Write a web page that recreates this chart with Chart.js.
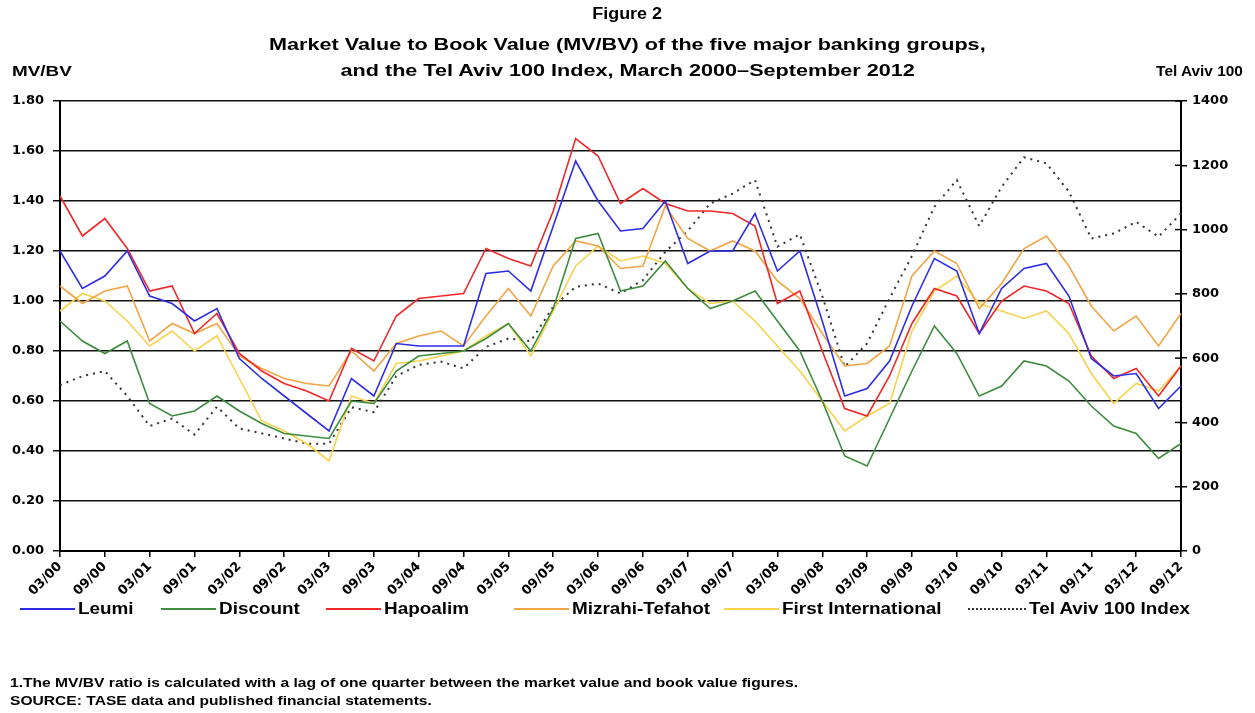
<!DOCTYPE html>
<html>
<head>
<meta charset="utf-8">
<script src="https://cdn.jsdelivr.net/npm/chart.js@4.4.0/dist/chart.umd.min.js"></script>
<style>
  body { margin: 0; background: #fff; }
  #wrap { position: relative; width: 1255px; height: 713px; overflow: hidden;
          font-family: "Liberation Sans", Arial, sans-serif; font-weight: bold; color: #000; }
  #chart { position: absolute; left: 0; top: 0; }
  .txt { position: absolute; white-space: nowrap; }
  .txt span, .leg span.lbl { display: inline-block; }
  .title { left: 0; width: 1255px; text-align: center; font-size: 16px; }
  .title span { transform: scaleX(1.35); }
  .leg { position: absolute; top: 600px; height: 18px; display: flex; align-items: center; font-size: 16px; white-space: nowrap; }
  .leg span.smp { display: inline-block; height: 0; margin-right: 3px; }
  .leg span.lbl { transform: scaleX(1.18); transform-origin: left center; }
  .note { left: 10px; font-size: 13px; }
  .note span { transform: scaleX(1.2); transform-origin: left center; }
</style>
</head>
<body>
<div id="wrap">
  <canvas id="chart" width="1255" height="713"></canvas>
  <div class="txt title" style="top:5px"><span style="transform:scaleX(1.12)">Figure 2</span></div>
  <div class="txt title" style="top:36px"><span>Market Value to Book Value (MV/BV) of the five major banking groups,</span></div>
  <div class="txt title" style="top:62px"><span>and the Tel Aviv 100 Index, March 2000–September 2012</span></div>
  <div class="txt" style="left:12px;top:63px;font-size:14px"><span style="transform:scaleX(1.35);transform-origin:left center">MV/BV</span></div>
  <div class="txt" style="right:12px;top:63px;font-size:14px"><span style="transform:scaleX(1.1);transform-origin:right center">Tel Aviv 100</span></div>
  <div id="legend"></div>
  <div class="txt note" style="top:675px"><span>1.The MV/BV ratio is calculated with a lag of one quarter between the market value and book value figures.</span></div>
  <div class="txt note" style="top:693px"><span>SOURCE: TASE data and published financial statements.</span></div>
</div>
<script>
'use strict';

let quarters = ['03/00', '06/00', '09/00', '12/00', '03/01', '06/01', '09/01', '12/01',
    '03/02', '06/02', '09/02', '12/02', '03/03', '06/03', '09/03', '12/03',
    '03/04', '06/04', '09/04', '12/04', '03/05', '06/05', '09/05', '12/05',
    '03/06', '06/06', '09/06', '12/06', '03/07', '06/07', '09/07', '12/07',
    '03/08', '06/08', '09/08', '12/08', '03/09', '06/09', '09/09', '12/09',
    '03/10', '06/10', '09/10', '12/10', '03/11', '06/11', '09/11', '12/11',
    '03/12', '06/12', '09/12'];

let leumi = [1.20, 1.05, 1.10, 1.20, 1.02, 0.99, 0.92, 0.97, 0.77, 0.69, 0.62, 0.55, 0.48,
    0.69, 0.62, 0.83, 0.82, 0.82, 0.82, 1.11, 1.12, 1.04, 1.30, 1.56, 1.40, 1.28, 1.29,
    1.40, 1.15, 1.20, 1.20, 1.35, 1.12, 1.20, 0.92, 0.62, 0.65, 0.76, 0.98, 1.17, 1.12,
    0.87, 1.05, 1.13, 1.15, 1.02, 0.77, 0.70, 0.71, 0.57, 0.66];

let discount = [0.92, 0.84, 0.79, 0.84, 0.59, 0.54, 0.56, 0.62, 0.56, 0.51, 0.47, 0.46, 0.45,
    0.60, 0.59, 0.72, 0.78, 0.79, 0.80, 0.85, 0.91, 0.80, 0.97, 1.25, 1.27, 1.04, 1.06,
    1.16, 1.05, 0.97, 1.00, 1.04, 0.92, 0.80, 0.60, 0.38, 0.34, 0.53, 0.72, 0.90, 0.79,
    0.62, 0.66, 0.76, 0.74, 0.68, 0.58, 0.50, 0.47, 0.37, 0.43];

let hapoalim = [1.42, 1.26, 1.33, 1.21, 1.04, 1.06, 0.87, 0.95, 0.79, 0.72, 0.67, 0.64, 0.60,
    0.81, 0.76, 0.94, 1.01, 1.02, 1.03, 1.21, 1.17, 1.14, 1.36, 1.65, 1.58, 1.39, 1.45,
    1.39, 1.36, 1.36, 1.35, 1.30, 0.99, 1.04, 0.80, 0.57, 0.54, 0.70, 0.91, 1.05, 1.02,
    0.87, 1.00, 1.06, 1.04, 0.99, 0.78, 0.69, 0.73, 0.62, 0.74];

let mizrahi = [1.06, 0.99, 1.04, 1.06, 0.84, 0.91, 0.87, 0.91, 0.78, 0.73, 0.69, 0.67, 0.66,
    0.80, 0.72, 0.83, 0.86, 0.88, 0.82, 0.94, 1.05, 0.94, 1.14, 1.24, 1.22, 1.13, 1.14,
    1.38, 1.25, 1.20, 1.24, 1.20, 1.08, 1.01, 0.87, 0.74, 0.75, 0.82, 1.10, 1.20, 1.15,
    0.97, 1.07, 1.21, 1.26, 1.14, 0.98, 0.88, 0.94, 0.82, 0.95];

let firstIntl = [0.96, 1.03, 1.00, 0.92, 0.82, 0.88, 0.80, 0.86, 0.69, 0.52, 0.48, 0.43, 0.36,
    0.62, 0.59, 0.75, 0.76, 0.78, 0.80, 0.86, 0.91, 0.78, 0.96, 1.14, 1.22, 1.16, 1.18,
    1.15, 1.05, 0.99, 1.00, 0.92, 0.82, 0.72, 0.60, 0.48, 0.54, 0.59, 0.88, 1.04, 1.10,
    0.99, 0.96, 0.93, 0.96, 0.87, 0.71, 0.59, 0.67, 0.64, 0.74];

// Tel Aviv 100 index, right axis
let telAviv100 = [516, 544, 560, 482, 389, 412, 362, 449, 381, 366, 350, 334, 334,
    447, 432, 544, 579, 589, 568, 635, 661, 653, 760, 822, 832, 801, 843,
    931, 996, 1081, 1112, 1154, 947, 985, 793, 573, 646, 786, 918, 1071, 1154,
    1011, 1133, 1225, 1206, 1118, 972, 988, 1024, 978, 1050];

let seriesNames = ['Leumi', 'Discount', 'Hapoalim', 'Mizrahi-Tefahot', 'First International', 'Tel Aviv 100 Index'];
let seriesColors = ['#2d2de6', '#3d8b3d', '#f02828', '#f2a446', '#f8d24a', '#333333'];
let legendX = [20, 161, 326, 514, 724, 968];

let tickFont = { family: 'DejaVu Sans, sans-serif', size: 13, weight: 'bold' };

// small tick marks on the inner side of the right axis
let innerTicks = {
    id: 'innerTicks',
    afterDraw(chart) {
        let ctx = chart.ctx;
        let s = chart.scales.y1;
        ctx.save();
        ctx.strokeStyle = '#000';
        ctx.lineWidth = 1.5;
        s.ticks.forEach(function (t) {
            let y = s.getPixelForValue(t.value);
            ctx.beginPath();
            ctx.moveTo(s.left - 6, y);
            ctx.lineTo(s.left, y);
            ctx.stroke();
        });
        ctx.restore();
    }
};

let mvbvSets = [leumi, discount, hapoalim, mizrahi, firstIntl];
let datasets = [];
for (let i = 0; i < mvbvSets.length; i++) {
    datasets.push({
        label: seriesNames[i],
        data: mvbvSets[i],
        borderColor: seriesColors[i],
        borderWidth: 1.6,
        yAxisID: 'y'
    });
}
datasets.push({
    label: seriesNames[5],
    data: telAviv100,
    borderColor: seriesColors[5],
    borderWidth: 2,
    borderDash: [2, 5],
    yAxisID: 'y1'
});

let ctx = document.getElementById('chart').getContext('2d');
let myChart = new Chart(ctx, {
    type: 'line',
    data: { labels: quarters, datasets: datasets },
    plugins: [innerTicks],
    options: {
        responsive: false,
        animation: false,
        devicePixelRatio: 1,
        layout: { padding: { top: 101, left: 0, right: 0, bottom: 0 } },
        elements: { point: { radius: 0 }, line: { tension: 0 } },
        plugins: { legend: { display: false }, tooltip: { enabled: false } },
        scales: {
            x: {
                afterFit: function (s) { s.height = 162; },
                grid: { drawOnChartArea: false, color: '#000', lineWidth: 1.5, tickLength: 6 },
                border: { color: '#000', width: 2 },
                ticks: {
                    autoSkip: false, minRotation: 45, maxRotation: 45, color: '#000', font: tickFont,
                    padding: 2,
                    callback: function (v, i) { return i % 2 === 0 ? quarters[i] : null; }
                }
            },
            y: {
                position: 'left',
                min: 0, max: 1.8,
                afterFit: function (s) { s.width = 60; },
                grid: { color: '#111', lineWidth: 1.5, tickLength: 7 },
                border: { color: '#000', width: 2 },
                ticks: {
                    stepSize: 0.2, color: '#000', font: tickFont, padding: 9,
                    callback: function (v) { return v.toFixed(2); }
                }
            },
            y1: {
                position: 'right',
                min: 0, max: 1400,
                afterFit: function (s) { s.width = 74; },
                grid: { drawOnChartArea: false, color: '#000', lineWidth: 1.5, tickLength: 6 },
                border: { color: '#000', width: 2 },
                ticks: {
                    stepSize: 200, color: '#000', font: tickFont, padding: 5,
                    callback: function (v) { return String(v); }
                }
            }
        }
    }
});

// legend below the axis labels
let legendBox = document.getElementById('legend');
for (let i = 0; i < seriesNames.length; i++) {
    let item = document.createElement('div');
    item.className = 'leg';
    item.style.left = legendX[i] + 'px';
    let sample = document.createElement('span');
    sample.className = 'smp';
    sample.style.borderTop = i === 5 ? '2px dotted ' + seriesColors[i] : '2px solid ' + seriesColors[i];
    sample.style.width = i === 5 ? '58px' : '55px';
    item.appendChild(sample);
    let lbl = document.createElement('span');
    lbl.className = 'lbl';
    lbl.textContent = seriesNames[i];
    item.appendChild(lbl);
    legendBox.appendChild(item);
}
</script>
</body>
</html>
